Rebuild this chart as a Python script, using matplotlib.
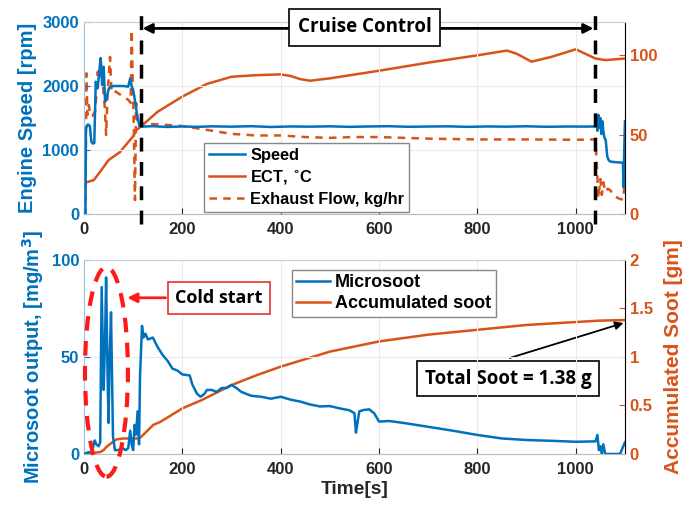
import matplotlib
matplotlib.use("Agg")
import matplotlib.pyplot as plt
from matplotlib.patches import Ellipse

BLUE = '#0072BD'
ORANGE = '#D95319'

# ---------------- Top panel data ----------------
speed_t = [0, 3, 4, 8, 12, 15, 18, 21, 24, 28, 31, 34, 37, 40, 43, 46, 50, 53, 60, 70, 80, 90, 94, 97,
           101, 104, 109, 113, 116, 140, 170, 200, 230, 260, 300, 340, 380, 420, 460, 500, 540, 580,
           620, 660, 700, 740, 780, 820, 860, 900, 940, 980, 1020, 1040, 1042, 1044, 1046, 1048, 1050,
           1052, 1054, 1056, 1058, 1061, 1064, 1067, 1070, 1080, 1090, 1096, 1097, 1098, 1100]
speed_rpm = [0, 0, 1344, 1400, 1375, 1130, 1100, 1110, 2067, 1968, 2224, 2437, 2016, 2300, 1755, 1800,
             1950, 1990, 2000, 2000, 2000, 1990, 2120, 2000, 1900, 1755, 1500, 1380, 1365, 1372, 1360,
             1368, 1362, 1370, 1365, 1372, 1360, 1368, 1365, 1370, 1362, 1368, 1372, 1363, 1367, 1370,
             1362, 1368, 1365, 1371, 1363, 1367, 1366, 1368, 1500, 1300, 1550, 1350, 1500, 1250, 1450,
             1300, 1200, 1150, 900, 840, 820, 810, 805, 800, 420, 800, 1450]

ect_t = [0, 5, 20, 33, 50, 73, 100, 107, 115, 150, 200, 250, 300, 350, 400, 420, 440, 460, 500, 600,
         700, 800, 860, 880, 910, 950, 1000, 1040, 1060, 1080, 1100]
ect_c = [20, 20, 21.4, 26.7, 34, 39, 49, 53, 55, 64.5, 74, 82, 86.5, 87.5, 88, 87, 85, 84, 85.5, 90.3,
         95.4, 100, 103, 101, 96, 99, 103.8, 98, 97, 97.5, 98]

exh_t = [0, 3, 5, 7, 10, 13, 18, 23, 28, 31, 34, 37, 42, 45, 48, 53, 56, 60, 70, 80, 90, 95, 97, 99,
         101, 103.7, 106, 110, 116, 150, 200, 250, 300, 350, 400, 450, 500, 550, 600, 700, 800, 900,
         1000, 1040, 1043, 1046, 1050, 1053, 1056, 1060, 1065, 1070, 1080, 1090, 1096, 1100]
exh_kg = [0, 0, 88.7, 62.4, 68.7, 62, 62, 65, 89.7, 85, 96, 86, 68.7, 49.8, 75, 99, 77, 78, 76, 74,
          72, 70, 116, 85, 60, 8.8, 70, 55, 57, 56.5, 55.5, 53, 50.5, 49.5, 49.5, 48.5, 48, 48.5, 48.5,
          47.5, 47, 47, 46.8, 47, 30, 10, 22, 12, 20, 14, 16, 15, 11, 9.5, 9, 20]

# ---------------- Bottom panel data ----------------
soot_t = [0, 10, 15, 22, 25, 30, 33, 36, 40, 43, 45, 48, 50, 52, 55, 59, 63, 70, 78, 85, 90, 94,
          97, 100, 103, 106, 109, 112, 114, 118, 121, 125, 130, 140, 150, 160, 170, 180, 190, 200,
          215, 220, 230, 237, 245, 250, 260, 270, 280, 290, 300, 310, 320, 340, 360, 380, 400, 420,
          440, 460, 480, 500, 520, 540, 550, 553, 556, 560, 569, 580, 590, 600, 620, 650, 700, 750,
          800, 850, 900, 950, 1000, 1040, 1044, 1047, 1050, 1053, 1056, 1060, 1064, 1070, 1090,
          1095, 1100]
soot_mg = [0, 1, 0, 7, 5, 4, 6, 86, 33, 60, 91, 40, 16, 48, 73, 9, 2, 2, 3, 2, 3, 12, 5, 2, 15, 10,
           22, 5, 40, 66, 60, 62, 59, 60, 55, 51, 48, 44, 43, 41, 40.5, 36, 31, 29.5, 31, 33, 33, 32,
           34, 34, 35.6, 34, 32, 30, 29.5, 28.5, 29.5, 28, 27, 25.5, 24.5, 24.7, 23.5, 22.5, 21, 11,
           16, 22, 22.7, 23, 21, 16.7, 17, 16, 14, 12, 9.8, 8, 7.2, 6.8, 6.3, 6.5, 9.8, 2, 4, 0, 5,
           0, 0, 0, 0, 3, 6]

acc_t = [0, 33, 40, 45, 55, 66, 80, 100, 107, 115, 141, 155, 200, 240, 300, 350, 400, 500, 600, 700,
         800, 900, 1000, 1050, 1100]
acc_g = [0, 0.02, 0.04, 0.07, 0.11, 0.15, 0.16, 0.16, 0.16, 0.17, 0.30, 0.33, 0.47, 0.557, 0.71,
         0.81, 0.9, 1.055, 1.16, 1.23, 1.28, 1.33, 1.36, 1.375, 1.38]

x_ticks = [0, 200, 400, 600, 800, 1000]
cruise_start, cruise_end = 116, 1039
total_soot = 1.38

# ---------------- Figure ----------------
plt.rcParams['font.family'] = ['Liberation Sans', 'DejaVu Sans']
plt.rcParams['font.weight'] = 'bold'
plt.rcParams['axes.labelweight'] = 'bold'
ANNOT_FONT = ['Open Sans', 'DejaVu Sans']

fig = plt.figure(figsize=(6.86, 5.12), dpi=100)
ax1 = fig.add_axes([0.1224, 0.582, 0.7886, 0.375])
ax2 = ax1.twinx()
ax3 = fig.add_axes([0.1224, 0.1133, 0.7886, 0.379])
ax4 = ax3.twinx()

GRID = '#ebebeb'
for ax in (ax1, ax3):
    ax.set_xlim(0, 1100)
    ax.set_xticks(x_ticks)
    ax.grid(True, color=GRID, lw=0.8)
    ax.set_axisbelow(True)

def style(axl, axr):
    axl.tick_params(axis='x', direction='in', length=4, colors='#262626', labelsize=12, pad=6)
    axl.tick_params(axis='y', direction='in', length=4, colors=BLUE, labelsize=12)
    axr.tick_params(axis='y', direction='in', length=4, colors=ORANGE, labelsize=12)
    for lab in axl.get_xticklabels() + axl.get_yticklabels() + axr.get_yticklabels():
        lab.set_fontweight('bold')
    axl.spines['left'].set_color('#9ac3e6')
    axl.spines['top'].set_color('#cccccc')
    axl.spines['bottom'].set_color('#bbbbbb')
    axr.spines['right'].set_color('#f0a080')
    axr.spines['top'].set_visible(False)
    axr.spines['left'].set_visible(False)
    axr.spines['bottom'].set_visible(False)
    for s in axl.spines.values():
        s.set_linewidth(0.8)

# Top panel
l1, = ax1.plot(speed_t, speed_rpm, color=BLUE, lw=1.8, label='Speed', zorder=3)
ax1.set_ylim(0, 3000)
ax1.set_yticks([0, 1000, 2000, 3000])
ax1.set_ylabel('Engine Speed [rpm]', color=BLUE, fontsize=14.5, labelpad=4)
l2, = ax2.plot(ect_t, ect_c, color=ORANGE, lw=1.8, label='ECT, $^{\\circ}$C')
l3, = ax2.plot(exh_t, exh_kg, color=ORANGE, lw=1.8, ls=(0, (3, 2.5)), label='Exhaust Flow, kg/hr')
ax2.set_ylim(0, 121)
ax2.set_yticks([0, 50, 100])
ax1.set_zorder(ax2.get_zorder() + 1)
ax1.patch.set_visible(False)
style(ax1, ax2)

ax1.legend(handles=[l1, l2, l3], loc='lower left', bbox_to_anchor=(0.207, -0.03),
           handlelength=2.2, handletextpad=0.3, borderpad=0.3, labelspacing=0.32,
           fancybox=False, framealpha=1, edgecolor='#888888',
           prop={'weight': 'bold', 'size': 11.8})

for xv in (cruise_start, cruise_end):
    ax1.plot([xv, xv], [-0.052, 1.073], transform=ax1.get_xaxis_transform(), color='black',
             lw=2.5, ls=(0, (4, 3)), clip_on=False, zorder=6)
ax1.annotate('', xy=(cruise_start + 3, 2900), xytext=(cruise_end - 3, 2900),
             arrowprops=dict(arrowstyle='<|-|>', color='black', lw=2, mutation_scale=14,
                             shrinkA=0, shrinkB=0), annotation_clip=False, zorder=7)
ax1.text(571, 2920, 'Cruise Control', ha='center', va='center', fontsize=13.5, fontweight='bold',
         family=ANNOT_FONT, zorder=8,
         bbox=dict(boxstyle='square,pad=0.45', fc='white', ec='black', lw=1.2))

# Bottom panel
l4, = ax3.plot(soot_t, soot_mg, color=BLUE, lw=1.8, label='Microsoot', zorder=3)
ax3.set_ylim(0, 100)
ax3.set_yticks([0, 50, 100])
ax3.set_ylabel('Microsoot output, [mg/m$^\\mathbf{3}$]', color=BLUE, fontsize=14.5, labelpad=4)
ax3.set_xlabel('Time[s]', fontsize=13.8, color='#262626', labelpad=3)
l5, = ax4.plot(acc_t, acc_g, color=ORANGE, lw=1.8, label='Accumulated soot')
ax4.set_ylim(0, 2)
ax4.set_yticks([0, 0.5, 1, 1.5, 2])
ax4.set_yticklabels(['0', '0.5', '1', '1.5', '2'])
ax4.set_ylabel('Accumulated Soot [gm]', color=ORANGE, fontsize=15, labelpad=8)
ax3.set_zorder(ax4.get_zorder() + 1)
ax3.patch.set_visible(False)
style(ax3, ax4)

ax3.legend(handles=[l4, l5], loc='upper left', bbox_to_anchor=(0.367, 0.995),
           handlelength=1.9, handletextpad=0.25, borderpad=0.25, labelspacing=0.2,
           fancybox=False, framealpha=1, edgecolor='#888888', prop={'weight': 'bold', 'size': 13})

ell = Ellipse((45.7, 42.3), width=87.4, height=108, fill=False, ec='#ff1a1a', lw=3,
              ls=(0, (3.5, 2.5)), clip_on=False, zorder=5)
ax3.add_patch(ell)
ax3.annotate('', xy=(88, 80.5), xytext=(166, 80.5),
             arrowprops=dict(arrowstyle='-|>', color='#ff1a1a', lw=2, mutation_scale=14,
                             shrinkA=0, shrinkB=0), zorder=7)
ax3.text(274, 80.5, 'Cold start', ha='center', va='center', fontsize=13, fontweight='bold',
         family=ANNOT_FONT, zorder=8,
         bbox=dict(boxstyle='square,pad=0.4', fc='white', ec='#e83030', lw=1.2))

ax4.annotate('', xy=(1097, total_soot - 0.03), xytext=(866, 0.99),
             arrowprops=dict(arrowstyle='-|>', color='black', lw=1.3, mutation_scale=12,
                             shrinkA=0, shrinkB=0), zorder=7)
ax4.text(862, 0.778, f'Total Soot = {total_soot} g', ha='center', va='center', fontsize=13.5,
         fontweight='bold', family=ANNOT_FONT, zorder=8,
         bbox=dict(boxstyle='square,pad=0.4', fc='white', ec='black', lw=1.2))

fig.savefig('out.png', dpi=100)
